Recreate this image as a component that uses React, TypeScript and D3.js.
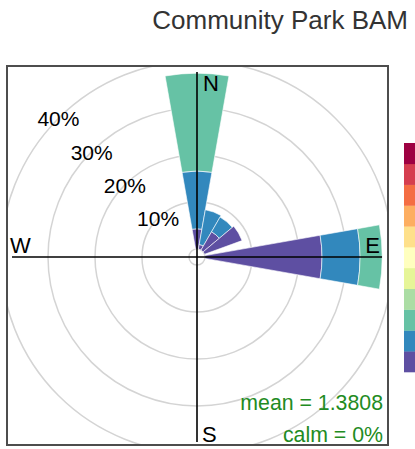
import React from "react";
import * as d3 from "d3";

// Wind directions (degrees, clockwise from north)
const directions = [0, 20, 40, 60, 90];
// Frequency (%) per speed bin for each direction
const bin1 = [4.3, 1.0, 4.5, 8.5, 24.9]; // lowest speed bin
const bin2 = [12.3, 7.5, 3.6, 0, 8.1];
const bin3 = [20.8, 0, 0, 0, 4.7];
const speedBins = [bin1, bin2, bin3];

const keyColors = [
  "#5E4FA2", "#3288BD", "#66C2A5", "#ABDDA4", "#E6F598", "#FFFFBF",
  "#FEE08B", "#FDAE61", "#F46D43", "#D53E4F", "#9E0142",
];
const ringValues = [10, 20, 30, 40];
const ringLabels = ["10%", "20%", "30%", "40%"];
const compass = ["N", "E", "S", "W"];
const title = "Community Park BAM";
const meanText = "mean = 1.3808";
const calmText = "calm = 0%";

export default function App() {
  const W = 415, H = 449;
  const cx = 197, cy = 257;
  const r = d3.scaleLinear().domain([0, 40]).range([8, 196]);
  const axisLen = 185;
  const halfWidth = 10; // degrees
  const arc = d3.arc<any>();
  const font = "'Liberation Sans', Arial, Helvetica, sans-serif";

  const wedges: any[] = [];
  directions.forEach((dir, i) => {
    let cum = 0;
    speedBins.forEach((bin, b) => {
      const v = bin[i];
      if (v <= 0) return;
      const inner = cum;
      cum += v;
      wedges.push({
        d: arc({
          innerRadius: r(inner),
          outerRadius: r(cum),
          startAngle: ((dir - halfWidth) * Math.PI) / 180,
          endAngle: ((dir + halfWidth) * Math.PI) / 180,
        }),
        color: keyColors[b],
        key: `${i}-${b}`,
      });
    });
  });

  const keyTop = 143, keyBottom = 372;
  const keyY = d3.scaleBand<number>().domain(d3.range(keyColors.length)).range([keyBottom, keyTop]);

  const labelAngle = Math.PI / 4;

  return (
    <svg width={W} height={H} style={{ position: "absolute", left: 0, top: 0 }} fontFamily={font}>
      <rect x={0} y={0} width={W} height={H} fill="white" />
      <text x={408} y={29} textAnchor="end" fontSize={26} fill="#333">{title}</text>
      <defs>
        <clipPath id="panel">
          <rect x={7} y={66} width={381} height={379} />
        </clipPath>
      </defs>
      <g clipPath="url(#panel)">
        {ringValues.map((v) => (
          <circle key={v} cx={cx} cy={cy} r={r(v)} fill="none" stroke="#D4D4D4" strokeWidth={1.5} />
        ))}
        <circle cx={cx} cy={cy} r={r(0)} fill="none" stroke="#D4D4D4" strokeWidth={1.5} />
        <g transform={`translate(${cx},${cy})`}>
          {wedges.map((w) => (
            <path key={w.key} d={w.d as string} fill={w.color} stroke="white" strokeWidth={0.6} />
          ))}
        </g>
        <line x1={cx - axisLen} x2={cx + axisLen} y1={cy} y2={cy} stroke="black" strokeWidth={1.6} />
        <line x1={cx} x2={cx} y1={cy - axisLen} y2={cy + axisLen} stroke="black" strokeWidth={1.6} />
        {ringValues.map((v, i) => (
          <text
            key={v}
            x={cx - r(v) * Math.sin(labelAngle)}
            y={cy - r(v) * Math.cos(labelAngle) + 8}
            textAnchor="middle"
            fontSize={21}
            fill="black"
          >
            {ringLabels[i]}
          </text>
        ))}
        <text x={cx + 6} y={91} fontSize={22}>{compass[0]}</text>
        <text x={380} y={253} fontSize={22} textAnchor="end">{compass[1]}</text>
        <text x={cx + 5} y={442} fontSize={22}>{compass[2]}</text>
        <text x={10} y={253} fontSize={22}>{compass[3]}</text>
        <text x={383} y={410} textAnchor="end" fontSize={21.3} fill="#228B22">{meanText}</text>
        <text x={383} y={442} textAnchor="end" fontSize={21.3} fill="#228B22">{calmText}</text>
      </g>
      <rect x={7} y={66} width={381} height={379} fill="none" stroke="#4D4D4D" strokeWidth={2} />
      {keyColors.map((c, i) => (
        <rect key={c} x={404} y={keyY(i)} width={20} height={keyY.bandwidth() + 0.3} fill={c} />
      ))}
    </svg>
  );
}
